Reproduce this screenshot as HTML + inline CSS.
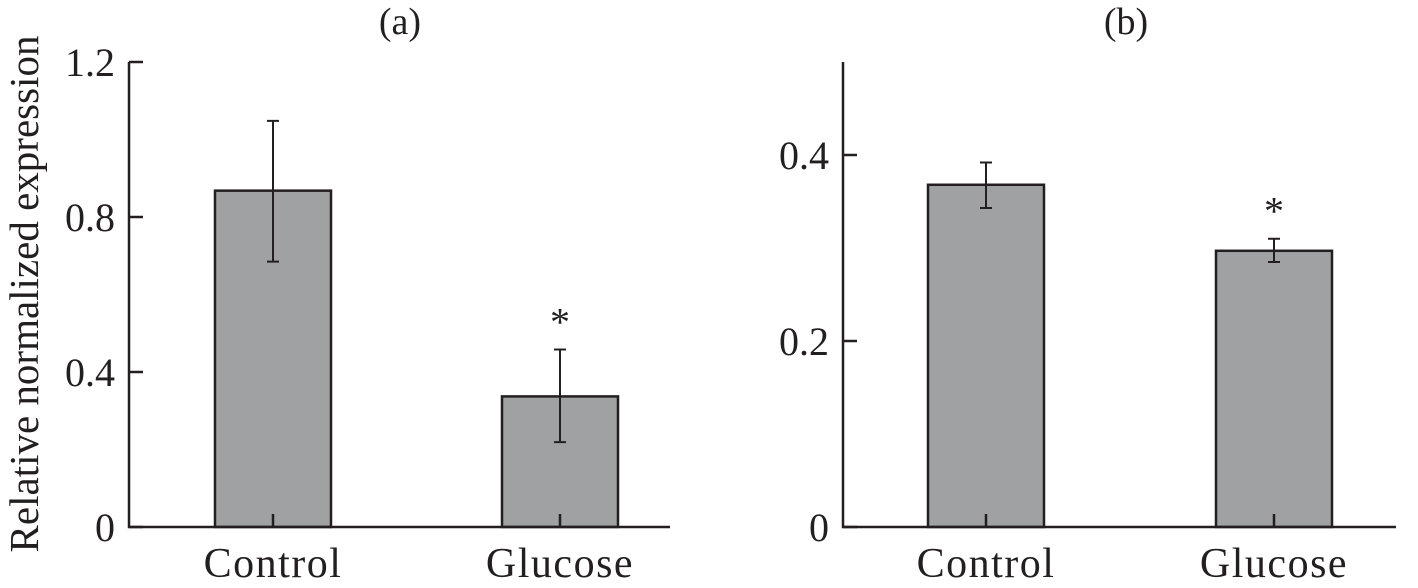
<!DOCTYPE html>
<html><head><meta charset="utf-8"><style>
html,body{margin:0;padding:0;background:#fff;}
svg{display:block;font-family:"Liberation Serif",serif;}
</style></head><body>
<svg id="c" width="1418" height="588"></svg>
<script>
const categories = ["Control", "Glucose"];
const valuesA = [0.868, 0.337];
const errHiA = [1.048, 0.458];
const errLoA = [0.685, 0.219];
const ticksA = [0, 0.4, 0.8, 1.2];
const tickLabelsA = ["0", "0.4", "0.8", "1.2"];
const sigA = [false, true];
const valuesB = [0.368, 0.297];
const errHiB = [0.392, 0.310];
const errLoB = [0.343, 0.285];
const ticksB = [0, 0.2, 0.4];
const tickLabelsB = ["0", "0.2", "0.4"];
const sigB = [false, true];

const NS = "http://www.w3.org/2000/svg";
const svg = document.getElementById('c');
function mk(tag, attrs, parent) {
  const e = document.createElementNS(NS, tag);
  for (const k in attrs) e.setAttribute(k, attrs[k]);
  (parent || svg).appendChild(e);
  return e;
}
function panel(cfg) {
  const g = mk('g', {});
  
  
  const y = v => cfg.y0 - (v / cfg.ymax) * (cfg.y0 - cfg.yTop);
  const x = i => cfg.xStart + i * cfg.step;
  cfg.values.forEach((v, i) => {
    const b = mk('rect', {x: x(i) - cfg.bw / 2, y: y(v), width: cfg.bw, height: cfg.y0 - y(v), fill: '#a0a1a3', stroke: '#231f20', 'stroke-width': 2.5}, g);
    
    
    const eb = mk('path', {d: `M${x(i)},${y(cfg.hi[i])}V${y(cfg.lo[i])}M${x(i)-6},${y(cfg.hi[i])}H${x(i)+6}M${x(i)-6},${y(cfg.lo[i])}H${x(i)+6}`, stroke: '#231f20', 'stroke-width': 2, fill: 'none'}, g);
    
    
    const xt = mk('line', {x1: x(i), x2: x(i), y1: cfg.y0, y2: cfg.y0 - 13, stroke: '#231f20', 'stroke-width': 2.5}, g);
    
    
    const lab = mk('text', {x: x(i), y: 577, 'font-size': 42, 'text-anchor': 'middle', fill: '#231f20', 'letter-spacing': 1.5}, g);
    lab.textContent = categories[i];
    
    
    if (cfg.sig[i]) {
      const s = mk('text', {x: x(i), y: y(cfg.hi[i]) - 14, 'font-size': 40, 'text-anchor': 'middle', fill: '#231f20'}, g);
      s.textContent = '*';
      
      
    }
  });
  const ax = mk('path', {d: `M${cfg.ax},${cfg.yTop}V${cfg.y0}H${cfg.xEnd}`, stroke: '#231f20', 'stroke-width': 2.5, fill: 'none'}, g);
  
  
  cfg.ticks.forEach((t, i) => {
    const tl = mk('line', {x1: cfg.ax, x2: cfg.ax + 14, y1: y(t), y2: y(t), stroke: '#231f20', 'stroke-width': 2.5}, g);
    
    
    const tx = mk('text', {x: cfg.ax - 14, y: y(t) + 14, 'font-size': 40, 'text-anchor': 'end', fill: '#231f20'}, g);
    tx.textContent = cfg.tickLabels[i];
    
    
  });
  const tt = mk('text', {x: cfg.titleX, y: 34, 'font-size': 38, 'text-anchor': 'middle', fill: '#231f20'}, g);
  tt.textContent = cfg.title;
  
  
}
panel({name: 'panel-a', values: valuesA, hi: errHiA, lo: errLoA, ticks: ticksA, tickLabels: tickLabelsA, sig: sigA,
  ymax: 1.2, y0: 527, yTop: 62, ax: 129, xEnd: 670, xStart: 273, step: 287, bw: 116, titleX: 400, title: '(a)'});
panel({name: 'panel-b', values: valuesB, hi: errHiB, lo: errLoB, ticks: ticksB, tickLabels: tickLabelsB, sig: sigB,
  ymax: 0.5, y0: 527, yTop: 62, ax: 843, xEnd: 1396, xStart: 986, step: 288, bw: 116, titleX: 1126, title: '(b)'});
const yt = mk('text', {x: 0, y: 0, 'font-size': 41, 'text-anchor': 'middle', fill: '#231f20', transform: 'translate(38,294) rotate(-90)'});
yt.textContent = 'Relative normalized expression';


</script>
</body></html>
